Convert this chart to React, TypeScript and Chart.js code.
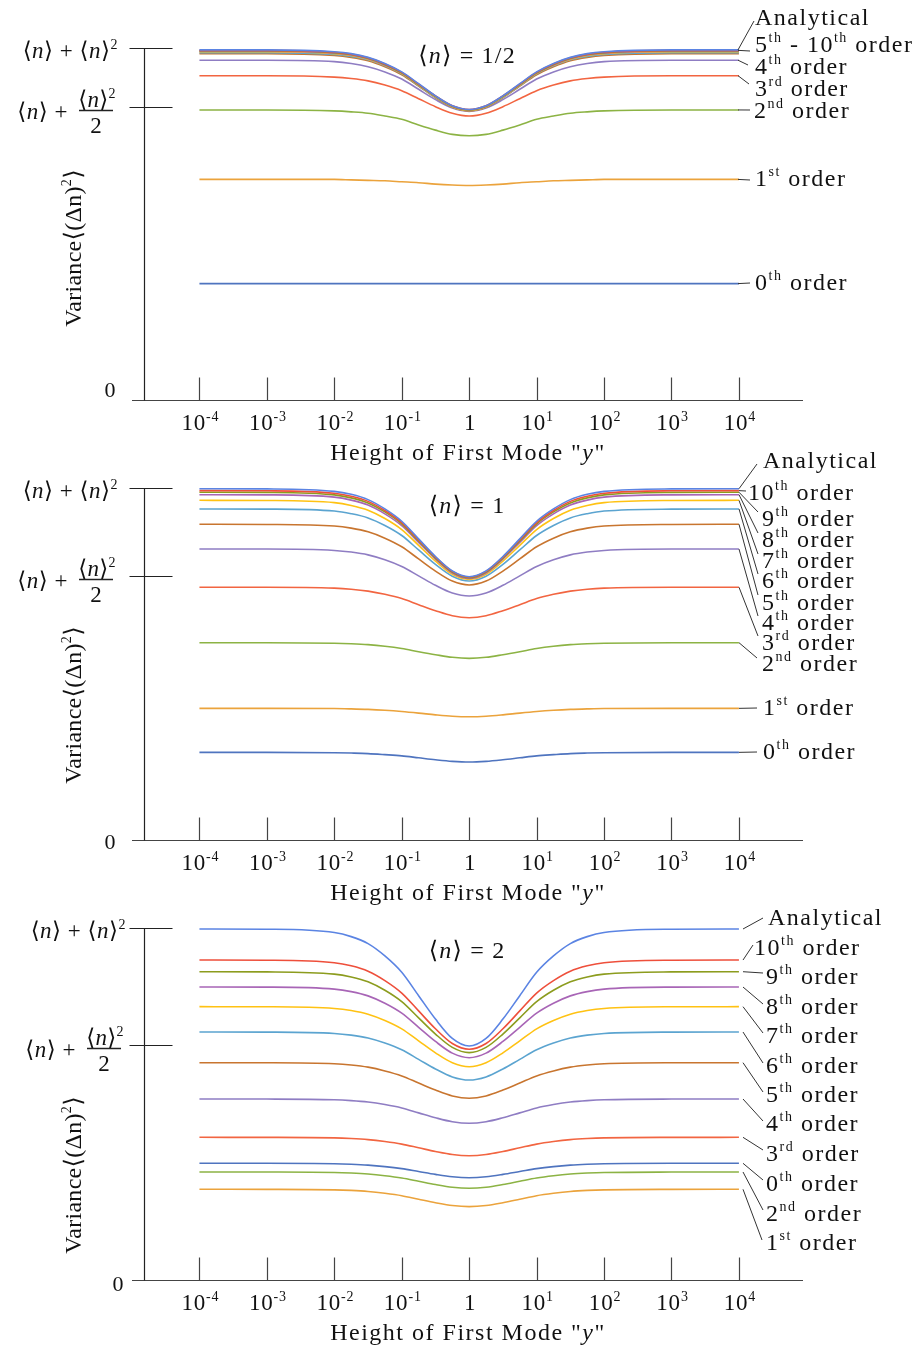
import React, { useEffect, useRef } from "react";
import { Chart, registerables } from "chart.js";
Chart.register(...registerables);

// ---------- DATA ----------
// x positions are decimal exponents of the first-mode height y (10^e)
const EXPONENTS = [-4, -3, -2, -1.75, -1.5, -1.25, -1, -0.75, -0.5, -0.25, 0, 0.25, 0.5, 0.75, 1, 1.25, 1.5, 1.75, 2, 3, 4];
const X_TICKS = [-4, -3, -2, -1, 0, 1, 2, 3, 4];
const X_TICK_BASE = ["10", "10", "10", "10", "1", "10", "10", "10", "10"];
const X_TICK_EXP = ["-4", "-3", "-2", "-1", "", "1", "2", "3", "4"];

const SERIES_NAMES = ["0th order", "1st order", "2nd order", "3rd order", "4th order", "5th order", "6th order", "7th order", "8th order", "9th order", "10th order", "Analytical"];
const ORDER_NUM = ["0", "1", "2", "3", "4", "5", "6", "7", "8", "9", "10"];
const ORDER_SUF = ["th", "st", "nd", "rd", "th", "th", "th", "th", "th", "th", "th"];

// <n> = 1/2
const HALF_0 = [0.248, 0.248, 0.248, 0.248, 0.248, 0.248, 0.248, 0.248, 0.248, 0.248, 0.248, 0.248, 0.248, 0.248, 0.248, 0.248, 0.248, 0.248, 0.248, 0.248, 0.248];
const HALF_1 = [0.470, 0.470, 0.470, 0.469, 0.468, 0.467, 0.465, 0.463, 0.460, 0.458, 0.457, 0.458, 0.460, 0.463, 0.465, 0.467, 0.468, 0.469, 0.470, 0.470, 0.470];
const HALF_2 = [0.618, 0.618, 0.616, 0.614, 0.611, 0.605, 0.598, 0.586, 0.575, 0.566, 0.563, 0.566, 0.575, 0.586, 0.598, 0.605, 0.611, 0.614, 0.616, 0.618, 0.618];
const HALF_3 = [0.691, 0.691, 0.688, 0.685, 0.680, 0.671, 0.659, 0.642, 0.625, 0.611, 0.605, 0.611, 0.625, 0.642, 0.659, 0.671, 0.680, 0.685, 0.688, 0.691, 0.691];
const HALF_4 = [0.724, 0.724, 0.721, 0.717, 0.710, 0.699, 0.684, 0.662, 0.640, 0.622, 0.615, 0.622, 0.640, 0.662, 0.684, 0.699, 0.710, 0.717, 0.721, 0.724, 0.724];
const HALF_5 = [0.738, 0.738, 0.734, 0.730, 0.723, 0.710, 0.693, 0.669, 0.644, 0.624, 0.616, 0.624, 0.644, 0.669, 0.693, 0.710, 0.723, 0.730, 0.734, 0.738, 0.738];
const HALF_6 = [0.740, 0.740, 0.736, 0.732, 0.725, 0.712, 0.695, 0.670, 0.645, 0.625, 0.617, 0.625, 0.645, 0.670, 0.695, 0.712, 0.725, 0.732, 0.736, 0.740, 0.740];
const HALF_7 = [0.742, 0.742, 0.738, 0.734, 0.726, 0.713, 0.696, 0.671, 0.646, 0.625, 0.617, 0.625, 0.646, 0.671, 0.696, 0.713, 0.726, 0.734, 0.738, 0.742, 0.742];
const HALF_8 = [0.743, 0.743, 0.739, 0.735, 0.727, 0.714, 0.697, 0.672, 0.647, 0.626, 0.618, 0.626, 0.647, 0.672, 0.697, 0.714, 0.727, 0.735, 0.739, 0.743, 0.743];
const HALF_9 = [0.744, 0.744, 0.740, 0.736, 0.728, 0.715, 0.697, 0.672, 0.647, 0.626, 0.618, 0.626, 0.647, 0.672, 0.697, 0.715, 0.728, 0.736, 0.740, 0.744, 0.744];
const HALF_10 = [0.745, 0.745, 0.741, 0.737, 0.729, 0.716, 0.698, 0.673, 0.648, 0.627, 0.619, 0.627, 0.648, 0.673, 0.698, 0.716, 0.729, 0.737, 0.741, 0.745, 0.745];
const HALF_A = [0.746, 0.746, 0.742, 0.738, 0.730, 0.717, 0.699, 0.674, 0.648, 0.627, 0.619, 0.627, 0.648, 0.674, 0.699, 0.717, 0.730, 0.738, 0.742, 0.746, 0.746];

// <n> = 1
const ONE_0 = [0.498, 0.498, 0.496, 0.494, 0.491, 0.485, 0.478, 0.467, 0.456, 0.447, 0.443, 0.447, 0.456, 0.467, 0.478, 0.485, 0.491, 0.494, 0.496, 0.498, 0.498];
const ONE_1 = [0.748, 0.748, 0.747, 0.745, 0.742, 0.737, 0.730, 0.721, 0.711, 0.703, 0.700, 0.703, 0.711, 0.721, 0.730, 0.737, 0.742, 0.745, 0.747, 0.748, 0.748];
const ONE_2 = [1.121, 1.121, 1.118, 1.115, 1.110, 1.101, 1.088, 1.070, 1.053, 1.038, 1.032, 1.038, 1.053, 1.070, 1.088, 1.101, 1.110, 1.115, 1.118, 1.121, 1.121];
const ONE_3 = [1.436, 1.436, 1.431, 1.425, 1.414, 1.396, 1.372, 1.337, 1.303, 1.274, 1.263, 1.274, 1.303, 1.337, 1.372, 1.396, 1.414, 1.425, 1.431, 1.436, 1.436];
const ONE_4 = [1.653, 1.653, 1.645, 1.636, 1.620, 1.592, 1.554, 1.501, 1.447, 1.403, 1.386, 1.403, 1.447, 1.501, 1.554, 1.592, 1.620, 1.636, 1.645, 1.653, 1.653];
const ONE_5 = [1.794, 1.793, 1.784, 1.772, 1.751, 1.715, 1.666, 1.597, 1.528, 1.471, 1.449, 1.471, 1.528, 1.597, 1.666, 1.715, 1.751, 1.772, 1.784, 1.793, 1.794];
const ONE_6 = [1.881, 1.880, 1.869, 1.854, 1.830, 1.787, 1.730, 1.648, 1.566, 1.499, 1.472, 1.499, 1.566, 1.648, 1.730, 1.787, 1.830, 1.854, 1.869, 1.880, 1.881];
const ONE_7 = [1.930, 1.929, 1.917, 1.901, 1.874, 1.827, 1.764, 1.674, 1.584, 1.509, 1.480, 1.509, 1.584, 1.674, 1.764, 1.827, 1.874, 1.901, 1.917, 1.929, 1.930];
const ONE_8 = [1.962, 1.961, 1.948, 1.931, 1.903, 1.853, 1.786, 1.691, 1.596, 1.517, 1.486, 1.517, 1.596, 1.691, 1.786, 1.853, 1.903, 1.931, 1.948, 1.961, 1.962];
const ONE_9 = [1.976, 1.975, 1.961, 1.944, 1.915, 1.864, 1.796, 1.699, 1.602, 1.522, 1.490, 1.522, 1.602, 1.699, 1.796, 1.864, 1.915, 1.944, 1.961, 1.975, 1.976];
const ONE_10 = [1.985, 1.984, 1.970, 1.953, 1.924, 1.872, 1.803, 1.705, 1.607, 1.526, 1.494, 1.526, 1.607, 1.705, 1.803, 1.872, 1.924, 1.953, 1.970, 1.984, 1.985];
const ONE_A = [1.996, 1.995, 1.981, 1.964, 1.934, 1.881, 1.811, 1.711, 1.611, 1.529, 1.496, 1.529, 1.611, 1.711, 1.811, 1.881, 1.934, 1.964, 1.981, 1.995, 1.996];

// <n> = 2
const TWO_0 = [1.989, 1.989, 1.982, 1.973, 1.958, 1.933, 1.898, 1.849, 1.800, 1.760, 1.744, 1.760, 1.800, 1.849, 1.898, 1.933, 1.958, 1.973, 1.982, 1.989, 1.989];
const TWO_1 = [1.546, 1.545, 1.537, 1.527, 1.509, 1.478, 1.437, 1.377, 1.318, 1.269, 1.250, 1.269, 1.318, 1.377, 1.437, 1.478, 1.509, 1.527, 1.537, 1.545, 1.546];
const TWO_2 = [1.841, 1.840, 1.833, 1.823, 1.806, 1.777, 1.738, 1.683, 1.627, 1.581, 1.563, 1.581, 1.627, 1.683, 1.738, 1.777, 1.806, 1.823, 1.833, 1.840, 1.841];
const TWO_3 = [2.432, 2.431, 2.423, 2.412, 2.393, 2.360, 2.316, 2.254, 2.191, 2.139, 2.119, 2.139, 2.191, 2.254, 2.316, 2.360, 2.393, 2.412, 2.423, 2.431, 2.432];
const TWO_4 = [3.085, 3.084, 3.073, 3.058, 3.033, 2.990, 2.932, 2.849, 2.766, 2.698, 2.671, 2.698, 2.766, 2.849, 2.932, 2.990, 3.033, 3.058, 3.073, 3.084, 3.085];
const TWO_5 = [3.704, 3.703, 3.686, 3.665, 3.628, 3.564, 3.479, 3.358, 3.237, 3.137, 3.097, 3.137, 3.237, 3.358, 3.479, 3.564, 3.628, 3.665, 3.686, 3.703, 3.704];
const TWO_6 = [4.227, 4.225, 4.203, 4.174, 4.125, 4.039, 3.924, 3.761, 3.597, 3.462, 3.409, 3.462, 3.597, 3.761, 3.924, 4.039, 4.125, 4.174, 4.203, 4.225, 4.227];
const TWO_7 = [4.659, 4.657, 4.628, 4.593, 4.531, 4.424, 4.281, 4.076, 3.871, 3.703, 3.636, 3.703, 3.871, 4.076, 4.281, 4.424, 4.531, 4.593, 4.628, 4.657, 4.659];
const TWO_8 = [4.994, 4.992, 4.958, 4.916, 4.843, 4.717, 4.548, 4.307, 4.066, 3.867, 3.789, 3.867, 4.066, 4.307, 4.548, 4.717, 4.843, 4.916, 4.958, 4.992, 4.994];
const TWO_9 = [5.255, 5.252, 5.214, 5.165, 5.083, 4.938, 4.744, 4.468, 4.192, 3.965, 3.875, 3.965, 4.192, 4.468, 4.744, 4.938, 5.083, 5.165, 5.214, 5.252, 5.255];
const TWO_10 = [5.454, 5.451, 5.408, 5.355, 5.264, 5.104, 4.891, 4.587, 4.282, 4.031, 3.932, 4.031, 4.282, 4.587, 4.891, 5.104, 5.264, 5.355, 5.408, 5.451, 5.454];
const TWO_A = [5.983, 5.979, 5.923, 5.853, 5.734, 5.524, 5.245, 4.846, 4.447, 4.118, 3.988, 4.118, 4.447, 4.846, 5.245, 5.524, 5.734, 5.853, 5.923, 5.979, 5.983];

// ---------- STYLE ----------
const COLORS = ["#4F74BF", "#EBA33C", "#8CB344", "#F26541", "#8F7DC3", "#C8752F", "#5BA4D0", "#FFC213", "#A865B6", "#8C9C1E", "#EE4F3B", "#5B84E3"];
const SERIF = "'Liberation Serif', 'Times New Roman', 'DejaVu Serif', 'DejaVu Sans', serif";
const INK = "#222";
const AXIS_INK = "#444";
const X_MIN = -5;
const X_MAX = 4.95;
const Y_AXIS_AT = -4.82;
const LABEL_SIZE = 24;
const LABEL_SPACING = 1.5;

type Run = { t: string; sup?: boolean; it?: boolean };

function drawRuns(ctx: CanvasRenderingContext2D, runs: Run[], x: number, yMid: number, size: number, align: "left" | "right" | "center", spacing = 0.6) {
  const supSize = Math.round(size * 0.6);
  const fontFor = (r: Run) => `${r.it ? "italic " : ""}${r.sup ? supSize : size}px ${SERIF}`;
  (ctx as any).letterSpacing = spacing + "px";
  let total = 0;
  const widths = runs.map((r) => {
    ctx.font = fontFor(r);
    const w = ctx.measureText(r.t).width;
    total += w;
    return w;
  });
  let cx = align === "left" ? x : align === "right" ? x - total : x - total / 2;
  const base = yMid + size * 0.34;
  ctx.textAlign = "left";
  ctx.textBaseline = "alphabetic";
  runs.forEach((r, i) => {
    ctx.font = fontFor(r);
    ctx.fillText(r.t, cx, r.sup ? base - size * 0.42 : base);
    cx += widths[i];
  });
  (ctx as any).letterSpacing = "0px";
}

const orderRuns = (i: number): Run[] => [{ t: ORDER_NUM[i] }, { t: ORDER_SUF[i], sup: true }, { t: " order" }];
const analyticalRuns: Run[] = [{ t: "Analytical" }];
const nRuns: Run[] = [{ t: "⟨" }, { t: "n", it: true }, { t: "⟩" }];

type Label = { s: number; ex: number; ey: number; tx: number; ty: number; runs: Run[] };

type PanelSpec = {
  series: number[][];
  yMax: number;
  yMid: number;
  title: string;
  titleY: number;
  yTitleY: number;
  zeroY: number;
  yLabelDx: number;
  labels: Label[];
  leaderStartX: number;
};

const PANELS: PanelSpec[] = [
  {
    series: [HALF_0, HALF_1, HALF_2, HALF_3, HALF_4, HALF_5, HALF_6, HALF_7, HALF_8, HALF_9, HALF_10, HALF_A],
    yMax: 0.75,
    yMid: 0.625,
    title: "1/2",
    titleY: 55,
    yTitleY: 248,
    zeroY: 390,
    yLabelDx: 0,
    leaderStartX: 738,
    labels: [
      { s: 11, ex: 754, ey: 21, tx: 755, ty: 17, runs: analyticalRuns },
      { s: 10, ex: 750, ey: 51, tx: 755, ty: 44, runs: [{ t: "5" }, { t: "th", sup: true }, { t: " - 10" }, { t: "th", sup: true }, { t: " order" }] },
      { s: 4, ex: 748, ey: 65, tx: 755, ty: 66, runs: orderRuns(4) },
      { s: 3, ex: 749, ey: 84, tx: 755, ty: 88, runs: orderRuns(3) },
      { s: 2, ex: 750, ey: 110, tx: 754, ty: 110, runs: orderRuns(2) },
      { s: 1, ex: 750, ey: 180, tx: 755, ty: 178, runs: orderRuns(1) },
      { s: 0, ex: 750, ey: 283, tx: 755, ty: 282, runs: orderRuns(0) },
    ],
  },
  {
    series: [ONE_0, ONE_1, ONE_2, ONE_3, ONE_4, ONE_5, ONE_6, ONE_7, ONE_8, ONE_9, ONE_10, ONE_A],
    yMax: 2,
    yMid: 1.5,
    title: "1",
    titleY: 65,
    yTitleY: 265,
    zeroY: 402,
    yLabelDx: 0,
    leaderStartX: 739,
    labels: [
      { s: 11, ex: 757, ey: 24, tx: 763, ty: 20, runs: analyticalRuns },
      { s: 10, ex: 746, ey: 51, tx: 748, ty: 52, runs: orderRuns(10) },
      { s: 9, ex: 758, ey: 72, tx: 762, ty: 78, runs: orderRuns(9) },
      { s: 8, ex: 758, ey: 93, tx: 762, ty: 99, runs: orderRuns(8) },
      { s: 7, ex: 758, ey: 114, tx: 762, ty: 120, runs: orderRuns(7) },
      { s: 6, ex: 758, ey: 134, tx: 762, ty: 140, runs: orderRuns(6) },
      { s: 5, ex: 758, ey: 155, tx: 762, ty: 162, runs: orderRuns(5) },
      { s: 4, ex: 758, ey: 176, tx: 762, ty: 182, runs: orderRuns(4) },
      { s: 3, ex: 758, ey: 196, tx: 762, ty: 202, runs: orderRuns(3) },
      { s: 2, ex: 757, ey: 218, tx: 762, ty: 223, runs: orderRuns(2) },
      { s: 1, ex: 757, ey: 268, tx: 763, ty: 267, runs: orderRuns(1) },
      { s: 0, ex: 757, ey: 312, tx: 763, ty: 311, runs: orderRuns(0) },
    ],
  },
  {
    series: [TWO_0, TWO_1, TWO_2, TWO_3, TWO_4, TWO_5, TWO_6, TWO_7, TWO_8, TWO_9, TWO_10, TWO_A],
    yMax: 6,
    yMid: 4,
    title: "2",
    titleY: 70,
    yTitleY: 295,
    zeroY: 404,
    yLabelDx: 8,
    leaderStartX: 743,
    labels: [
      { s: 11, ex: 763, ey: 38, tx: 768, ty: 37, runs: analyticalRuns },
      { s: 10, ex: 753, ey: 65, tx: 754, ty: 67, runs: orderRuns(10) },
      { s: 9, ex: 763, ey: 93, tx: 766, ty: 96, runs: orderRuns(9) },
      { s: 8, ex: 763, ey: 124, tx: 766, ty: 126, runs: orderRuns(8) },
      { s: 7, ex: 763, ey: 153, tx: 766, ty: 155, runs: orderRuns(7) },
      { s: 6, ex: 763, ey: 183, tx: 766, ty: 185, runs: orderRuns(6) },
      { s: 5, ex: 763, ey: 212, tx: 766, ty: 214, runs: orderRuns(5) },
      { s: 4, ex: 763, ey: 241, tx: 766, ty: 243, runs: orderRuns(4) },
      { s: 3, ex: 763, ey: 270, tx: 766, ty: 273, runs: orderRuns(3) },
      { s: 0, ex: 763, ey: 300, tx: 766, ty: 303, runs: orderRuns(0) },
      { s: 2, ex: 763, ey: 330, tx: 766, ty: 333, runs: orderRuns(2) },
      { s: 1, ex: 762, ey: 360, tx: 766, ty: 362, runs: orderRuns(1) },
    ],
  },
];

function line(ctx: CanvasRenderingContext2D, x1: number, y1: number, x2: number, y2: number) {
  ctx.beginPath();
  ctx.moveTo(x1, y1);
  ctx.lineTo(x2, y2);
  ctx.stroke();
}

function makeDecor(p: PanelSpec) {
  return {
    id: "decor",
    afterDraw(chart: any) {
      const ctx: CanvasRenderingContext2D = chart.ctx;
      const xs = chart.scales.x;
      const ys = chart.scales.y;
      ctx.save();
      const y0 = Math.round(ys.getPixelForValue(0)) + 0.5;
      const yTop = Math.round(ys.getPixelForValue(p.yMax)) + 0.5;
      const yMidPx = Math.round(ys.getPixelForValue(p.yMid)) + 0.5;
      const axX = Math.round(xs.getPixelForValue(Y_AXIS_AT)) + 0.5;
      ctx.lineWidth = 1.2;
      ctx.strokeStyle = AXIS_INK;
      // x axis
      line(ctx, xs.getPixelForValue(X_MIN), y0, xs.getPixelForValue(X_MAX), y0);
      // x ticks
      X_TICKS.forEach((t) => {
        const px = Math.round(xs.getPixelForValue(t)) + 0.5;
        line(ctx, px, y0, px, y0 - 23);
      });
      // y axis
      ctx.strokeStyle = INK;
      line(ctx, axX, yTop, axX, y0);
      line(ctx, axX - 15, yTop, axX + 28, yTop);
      line(ctx, axX - 15, yMidPx, axX + 28, yMidPx);

      ctx.fillStyle = "#111";
      // x tick labels
      X_TICKS.forEach((t, i) => {
        const px = xs.getPixelForValue(t);
        const runs: Run[] = [{ t: X_TICK_BASE[i] }];
        if (X_TICK_EXP[i]) runs.push({ t: X_TICK_EXP[i], sup: true });
        drawRuns(ctx, runs, px + 1, y0 + 22, 23, "center", 0.8);
      });
      // x title
      drawRuns(ctx, [{ t: 'Height of First Mode "' }, { t: "y", it: true }, { t: '"' }], 468, y0 + 51, 24, "center", 1.5);
      // y title (rotated)
      ctx.save();
      ctx.translate(73, p.yTitleY);
      ctx.rotate(-Math.PI / 2);
      drawRuns(ctx, [{ t: "Variance⟨(Δn)" }, { t: "2", sup: true }, { t: "⟩" }], 0, 0, 24, "center", 0.3);
      ctx.restore();
      // y tick labels
      const dx = p.yLabelDx;
      drawRuns(ctx, [...nRuns, { t: " + " }, ...nRuns, { t: "2", sup: true }], 118 + dx, yTop + 2, 23, "right", 0.5);
      drawRuns(ctx, [...nRuns, { t: " +" }], 68 + dx, yMidPx + 4, 23, "right", 0.5);
      drawRuns(ctx, [...nRuns, { t: "2", sup: true }], 97 + dx, yMidPx - 8, 23, "center", 0.3);
      ctx.lineWidth = 1.3;
      line(ctx, 79 + dx, yMidPx + 3, 113 + dx, yMidPx + 3);
      drawRuns(ctx, [{ t: "2" }], 96 + dx, yMidPx + 18, 23, "center", 0);
      drawRuns(ctx, [{ t: "0" }], 110 + dx, p.zeroY, 22, "center", 0);
      // panel title
      drawRuns(ctx, [...nRuns, { t: " = " + p.title }], 467, p.titleY, 24, "center", 1.2);
      // right-side labels with leader lines
      ctx.strokeStyle = "#333";
      ctx.lineWidth = 1;
      const xEnd = p.leaderStartX;
      p.labels.forEach((l) => {
        const vals = p.series[l.s];
        const sy = ys.getPixelForValue(vals[vals.length - 1]);
        line(ctx, xEnd, sy, l.ex, l.ey);
        drawRuns(ctx, l.runs, l.tx, l.ty, LABEL_SIZE, "left", LABEL_SPACING);
      });
      ctx.restore();
    },
  };
}

function Panel({ spec, top }: { spec: PanelSpec; top: number }) {
  const ref = useRef<HTMLCanvasElement>(null);
  useEffect(() => {
    const datasets = spec.series.map((vals, i) => ({
      label: SERIES_NAMES[i],
      data: EXPONENTS.map((e, j) => ({ x: e, y: vals[j] })),
      borderColor: COLORS[i],
      backgroundColor: COLORS[i],
      borderWidth: 1.6,
      pointRadius: 0,
      cubicInterpolationMode: "monotone" as const,
      fill: false,
      clip: false as any,
      order: 11 - i,
    }));
    const chart = new Chart(ref.current!, {
      type: "line",
      data: { datasets },
      options: {
        animation: false,
        responsive: false,
        maintainAspectRatio: false,
        devicePixelRatio: 1,
        layout: { padding: { top: 48, bottom: 69, left: 132, right: 116 } },
        scales: {
          x: { type: "linear", min: X_MIN, max: X_MAX, display: false },
          y: { type: "linear", min: 0, max: spec.yMax, display: false },
        },
        plugins: { legend: { display: false }, tooltip: { enabled: false } },
      },
      plugins: [makeDecor(spec)],
    });
    return () => chart.destroy();
  }, [spec]);
  return <canvas ref={ref} width={919} height={469} style={{ position: "absolute", left: 0, top, width: 919, height: 469, display: "block" }} />;
}

export default function App() {
  return (
    <div style={{ position: "absolute", left: 0, top: 0, width: 919, height: 1349, background: "#fff", overflow: "hidden" }}>
      {PANELS.map((p, i) => (
        <Panel key={i} spec={p} top={i * 440} />
      ))}
    </div>
  );
}
